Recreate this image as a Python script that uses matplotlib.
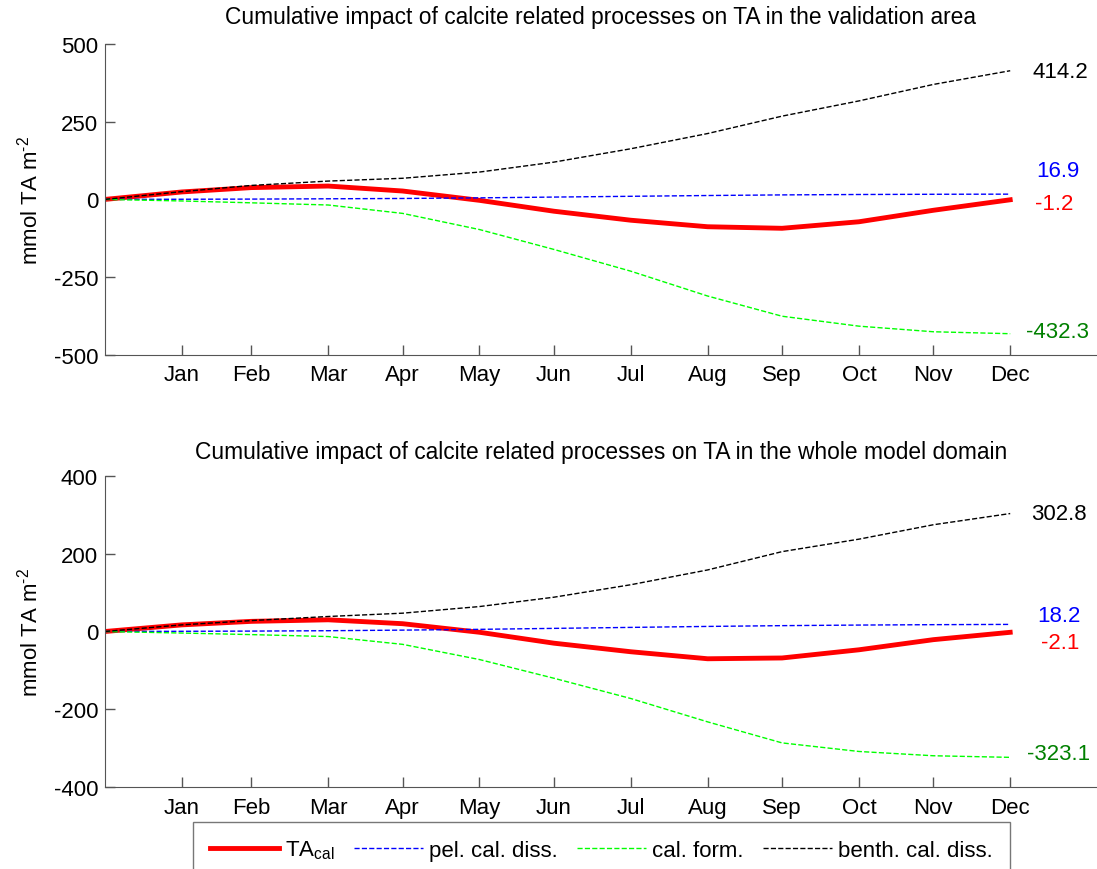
import numpy as np
import matplotlib
matplotlib.use("Agg")
import matplotlib.pyplot as plt

plt.rcParams['font.family'] = ['Liberation Sans', 'DejaVu Sans']
plt.rcParams['mathtext.fontset'] = 'custom'
plt.rcParams['mathtext.rm'] = 'Liberation Sans'
plt.rcParams['mathtext.it'] = 'Liberation Sans:italic'
plt.rcParams['axes.unicode_minus'] = False

# day of year at the end of each month
days = [0, 31, 59, 90, 120, 151, 181, 212, 243, 273, 304, 334, 365]
month_ticks = [31, 59, 90, 120, 151, 181, 212, 243, 273, 304, 334, 365]
month_labels = ['Jan', 'Feb', 'Mar', 'Apr', 'May', 'Jun', 'Jul', 'Aug', 'Sep', 'Oct', 'Nov', 'Dec']

# validation area (mmol TA m-2)
ta_cal_val = [0, 24, 38, 43, 27, -3, -38, -67, -88, -93, -72, -35, -1.2]
pel_val = [0, 0.5, 1, 2, 3, 5, 7.5, 10, 12.5, 14.5, 15.8, 16.5, 16.9]
form_val = [0, -5, -11, -18, -45, -97, -161, -231, -311, -376, -408, -426, -432.3]
benth_val = [0, 25, 45, 59, 68, 88, 120, 163, 212, 268, 317, 370, 414.2]

# whole model domain (mmol TA m-2)
ta_cal_dom = [0, 17, 26, 30, 20, -2, -30, -52, -70, -68, -47, -21, -2.1]
pel_dom = [0, 0.5, 1, 2, 3.5, 5.5, 8, 10.5, 13, 15, 16.5, 17.5, 18.2]
form_dom = [0, -4, -8, -13, -33, -72, -120, -172, -232, -286, -308, -319, -323.1]
benth_dom = [0, 17, 28, 38.5, 47, 64, 88, 120, 158, 205, 237, 274, 302.8]

fig = plt.figure(figsize=(10.97, 8.7), dpi=100)
ax1 = fig.add_axes([0.0957, 0.5911, 0.9043, 0.3571])
ax2 = fig.add_axes([0.0957, 0.0939, 0.9043, 0.3582])

panels = [
    (ax1, ta_cal_val, pel_val, form_val, benth_val, 500, [500, 250, 0, -250, -500],
     'Cumulative impact of calcite related processes on TA in the validation area', 15,
     [(374, 393), (375.5, 74), (374.8, -31), (371.2, -444)]),
    (ax2, ta_cal_dom, pel_dom, form_dom, benth_dom, 400, [400, 200, 0, -200, -400],
     'Cumulative impact of calcite related processes on TA in the whole model domain', 12.5,
     [(373.5, 287.5), (376, 26.7), (377.3, -43.6), (371.9, -327)]),
]

for ax, ta, pel, form, benth, ymax, yt, title, tpad, lab_pos in panels:
    l1, = ax.plot(days, ta, '-', color='red', lw=3.5, label=r'TA$_{\rm cal}$')
    l2, = ax.plot(days, pel, '--', color='blue', lw=1.0, label='pel. cal. diss.')
    l3, = ax.plot(days, form, '--', color='#00ff00', lw=1.0, label='cal. form.')
    l4, = ax.plot(days, benth, '--', color='black', lw=1.0, label='benth. cal. diss.')

    # end-of-year totals
    series = [benth, pel, ta, form]
    colors = ['black', 'blue', 'red', '#008000']
    for s, c, (lx, ly) in zip(series, colors, lab_pos):
        ax.text(lx, ly, f'{s[-1]:.1f}', color=c, fontsize=16, ha='left', va='baseline')

    ax.set_xlim(0, 400)
    ax.set_ylim(-ymax, ymax)
    ax.set_xticks(month_ticks)
    ax.set_xticklabels(month_labels)
    ax.set_yticks(yt)
    ax.tick_params(direction='in', length=7, width=1, labelsize=16, color='#555555')
    ax.tick_params(axis='x', pad=7)
    ax.tick_params(axis='y', pad=5)
    for side in ['top', 'right']:
        ax.spines[side].set_visible(False)
    for side in ['left', 'bottom']:
        ax.spines[side].set_color('#555555')
    ax.set_ylabel(r'mmol TA m$^{\text{-2}}$', fontsize=16)
    ax.yaxis.set_label_coords(-0.063, 0.5)
    ax.set_title(title, fontsize=16.4, pad=tpad)

fig.legend(handles=[l1, l2, l3, l4], loc='upper left', bbox_to_anchor=(0.176, 0.054),
           ncol=4, fontsize=16, frameon=True, fancybox=False, edgecolor='#555555',
           handlelength=3.1, handletextpad=0.3, columnspacing=0.85, borderpad=0.75,
           borderaxespad=0)

fig.savefig('out.png', dpi=100)
